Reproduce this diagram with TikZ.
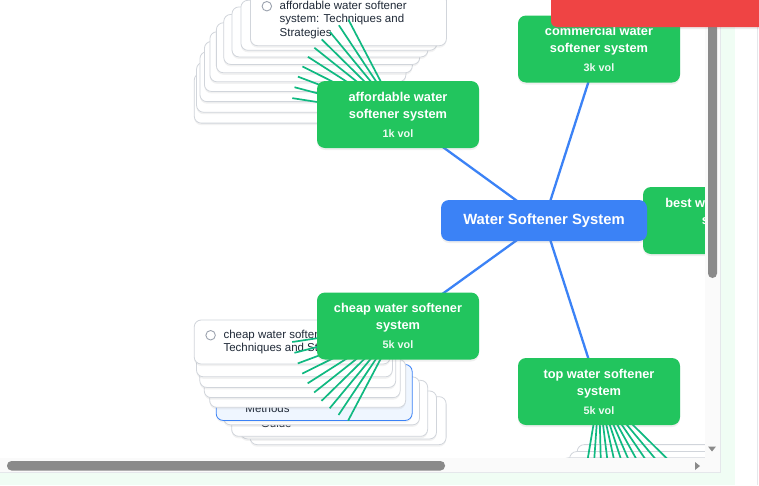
\documentclass[tikz,border=0pt]{standalone}
\usepackage{fontspec}
\setmainfont{Liberation Sans}
\usetikzlibrary{calc,shadows}

\definecolor{rootblue}{HTML}{3B82F6}
\definecolor{leafgreen}{HTML}{22C55E}
\definecolor{fangreen}{HTML}{10B981}
\definecolor{cardborder}{HTML}{D1D5DB}
\definecolor{cardink}{HTML}{1F2937}
\definecolor{radiogray}{HTML}{9CA3AF}
\definecolor{selectfill}{HTML}{EFF6FF}
\definecolor{toastred}{HTML}{EF4444}
\definecolor{pagegreen}{HTML}{F0FDF4}
\definecolor{panelline}{HTML}{E5E7EB}
\definecolor{trackgray}{HTML}{FAFAFA}
\definecolor{thumbgray}{HTML}{8A8A8A}

\newcommand{\voltag}[1]{{\fontsize{10.8}{13}\selectfont\color{white!92!leafgreen}#1}}

\makeatletter
\pgfkeys{
  /card/.cd,
  id/.store in=\card@id,
  parent/.store in=\card@parent,
  angle/.store in=\card@angle,
  text dy/.store in=\card@dy,
  box options/.code={\tikzset{card extra/.style={#1}}},
  radio/.code={\def\card@radio{1}},
}
\newcommand{\fancard}[2][]{%
  \def\card@radio{0}\def\card@dy{0}\tikzset{card extra/.style={}}%
  \pgfkeys{/card/.cd,#1}%
  \node[card box,card extra] (\card@id) at ($(\card@parent)+({\card@angle}:107)$) {};
  \if\relax\detokenize{#2}\relax\else
    \node[card text,anchor=west] (\card@id--text) at ($(\card@id.west)+(29.5,\card@dy)$) {#2};
    \if1\card@radio
      \node[radio] (\card@id--radio) at ($(\card@id--text.north west)+(-12.7,5.5)$) {};
    \fi
  \fi
}
\makeatother

\begin{document}
\begin{tikzpicture}[x=1pt,y=-1pt,
  root node/.style={fill=rootblue,rounded corners=8pt,minimum width=206pt,minimum height=41pt,
    text=white,font=\fontsize{14.8}{18}\selectfont\bfseries,
    drop shadow={opacity=0.12,shadow xshift=0pt,shadow yshift=-2pt}},
  leaf node/.style={fill=leafgreen,rounded corners=8pt,minimum width=162pt,minimum height=67pt,
    text=white,align=center,inner sep=0pt,font=\fontsize{12.8}{17}\selectfont\bfseries,
    drop shadow={opacity=0.12,shadow xshift=0pt,shadow yshift=-2pt}},
  card box/.style={draw=cardborder,line width=0.8pt,fill=white,rounded corners=7pt,
    minimum width=196pt,minimum height=44pt,inner sep=0pt,
    drop shadow={opacity=0.10,shadow xshift=0pt,shadow yshift=-2pt}},
  card text/.style={inner sep=0pt,align=left,text=cardink,font=\fontsize{11.5}{13.4}\selectfont},
  radio/.style={circle,draw=radiogray,line width=0.9pt,fill=white,minimum size=9.5pt,inner sep=0pt},
  hub edge/.style={draw=rootblue,line width=2.3pt},
  fan edge/.style={draw=fangreen,line width=1.7pt},
]
\useasboundingbox (0,0) rectangle (759,485);

% page and panel
\fill[white] (0,0) rectangle (759,485);
\fill[pagegreen] (0,0) rectangle (735,485);
\fill[white] (0,0) rectangle (720,472.5);
\draw[panelline,line width=0.8pt] (720,0) -- (720,472.5) -- (0,472.5);
\draw[panelline,line width=0.8pt] (757,0) -- (757,485);

\begin{scope}
  \clip (0,0) rectangle (705,458);

  \coordinate (root-hub) at (544,220.5);
  \coordinate (com-hub) at (599,49);
  \coordinate (aff-hub) at (398,114.5);
  \coordinate (best-hub) at (724,220.5);
  \coordinate (cheap-hub) at (398,326);
  \coordinate (top-hub) at (599,391.5);

  \foreach \leaf in {com,aff,best,cheap,top}
    \draw[hub edge] (root-hub) -- (\leaf-hub);

  % affordable fan
  \foreach \i in {0,...,8} {
    \fancard[id=aff-card-\i,parent=aff-hub,angle={188.8+5.96*\i},box options={minimum height=50pt}]{}
  }
  \fancard[id=aff-card-9,parent=aff-hub,angle=242.4,radio,box options={minimum height=52pt}]{affordable water softener\\system: Techniques and\\Strategies}

  % cheap fan
  \foreach \i in {0,1} {
    \fancard[id=cheap-card-\i,parent=cheap-hub,angle={117.8+5.96*\i},box options={minimum height=48pt}]{}
  }
  \fancard[id=cheap-card-2,parent=cheap-hub,angle=129.7,text dy=3.5,box options={minimum height=56pt}]{\strut\\\strut\\\strut Guide}
  \fancard[id=cheap-card-3,parent=cheap-hub,angle=135.6,box options={minimum height=48pt}]{}
  \fancard[id=cheap-card-4,parent=cheap-hub,angle=141.6,text dy=3.5,box options={minimum height=56pt,draw=rootblue,fill=selectfill}]{\strut\\\strut\\\strut Methods}
  \foreach \i in {5,...,8} {
    \fancard[id=cheap-card-\i,parent=cheap-hub,angle={117.8+5.96*\i},box options={minimum height=48pt}]{}
  }
  \fancard[id=cheap-card-9,parent=cheap-hub,angle=171.4,radio]{cheap water softener system:\\Techniques and Strategies}

  % top fan
  \foreach \i in {0,...,10} {
    \fancard[id=top-card-\i,parent=top-hub,angle={44.6+5.49*\i}]{}
  }

  \foreach \i in {0,...,9} {
    \draw[fan edge] (aff-hub) -- (aff-card-\i.center);
    \draw[fan edge] (cheap-hub) -- (cheap-card-\i.center);
  }
  \foreach \i in {0,...,10}
    \draw[fan edge] (top-hub) -- (top-card-\i.center);

  \node[leaf node] (com) at (com-hub) {commercial water\\softener system\\[2pt]\voltag{3k vol}};
  \node[leaf node] (aff) at (aff-hub) {affordable water\\softener system\\[2pt]\voltag{1k vol}};
  \node[leaf node] (best) at (best-hub) {best water softener\\system\\[2pt]\voltag{\phantom{5k vol}}};
  \node[leaf node] (cheap) at (cheap-hub) {cheap water softener\\system\\[2pt]\voltag{5k vol}};
  \node[leaf node] (top) at (top-hub) {top water softener\\system\\[2pt]\voltag{5k vol}};

  \node[root node] (root) at (root-hub) {Water Softener System};
\end{scope}

% scrollbars
\fill[trackgray] (705,0) rectangle (719.6,472);
\fill[trackgray] (0,458) rectangle (705,472);
\fill[thumbgray,rounded corners=4.5pt] (708,20) rectangle (717,278);
\fill[thumbgray,rounded corners=4.5pt] (7,461) rectangle (445,470.5);
\fill[thumbgray] (708,446.5) -- (716,446.5) -- (712,451.5) -- cycle;
\fill[thumbgray] (695,462) -- (700,466) -- (695,470) -- cycle;

% toast
\fill[toastred,rounded corners=6pt,drop shadow={opacity=0.15,shadow xshift=0pt,shadow yshift=-2pt}] (551,-10) rectangle (770,27);
\end{tikzpicture}
\end{document}
